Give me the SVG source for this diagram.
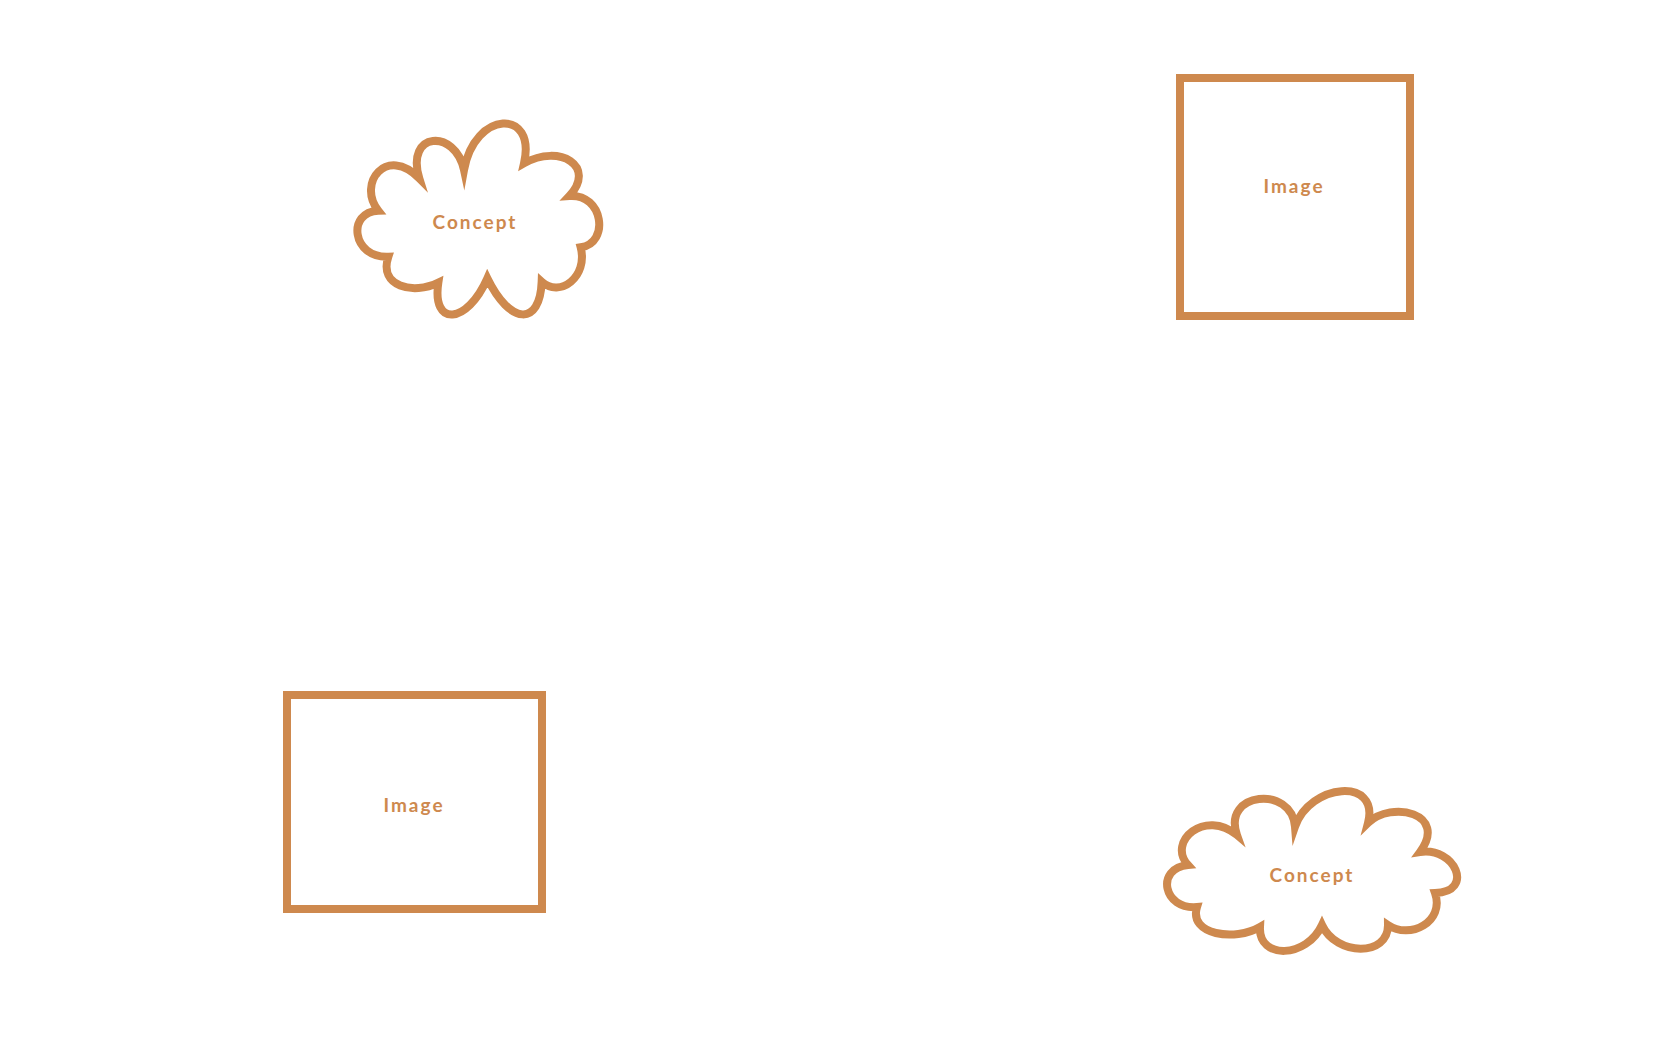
<svg xmlns="http://www.w3.org/2000/svg" width="1680" height="1050" viewBox="0 0 1680 1050">
<style>
.shape{fill:#ffffff;stroke:#CE894E;stroke-width:8;stroke-linejoin:miter;stroke-miterlimit:6}
.cloud{fill:#ffffff;stroke:#CE894E;stroke-width:24;stroke-linejoin:miter;stroke-miterlimit:8}
.lbl{font-family:"Lato","Liberation Sans",sans-serif;font-weight:700;font-size:19px;fill:#CE894E;text-anchor:middle;letter-spacing:2px}
</style>
<rect width="1680" height="1050" fill="#ffffff"/>
<g id="connectors"></g>
<g id="concept1">
<path class="cloud" transform="translate(340 110) scale(0.33333)" d="M372,180 C405,0 590,-5 552,160 C660,100 770,170 688,258 C790,250 810,400 722,412 C745,500 660,565 605,515 C600,650 510,645 442,505 C380,645 275,650 295,518 C220,555 115,530 145,440 C35,445 20,305 115,302 C50,220 140,105 238,205 C195,65 345,55 372,180 Z"/>
<text class="lbl" x="475" y="229">Concept</text>
</g>
<g id="image1">
<rect class="shape" x="1180" y="78" width="230" height="238"/>
<text class="lbl" x="1294" y="193">Image</text>
</g>
<g id="image2">
<rect class="shape" x="287" y="695" width="255" height="214"/>
<text class="lbl" x="414" y="812">Image</text>
</g>
<g id="concept2">
<path class="cloud" transform="translate(1150 775) scale(0.33333)" d="M435,155 C480,25 690,5 654,144 C725,75 895,115 810,231 C915,215 975,350 855,354 C885,440 780,495 714,450 C715,545 560,545 516,450 C470,550 325,555 330,456 C255,500 115,480 141,396 C40,405 15,280 114,270 C50,200 165,100 261,180 C215,50 425,30 435,155 Z"/>
<text class="lbl" x="1312" y="882">Concept</text>
</g>
</svg>
